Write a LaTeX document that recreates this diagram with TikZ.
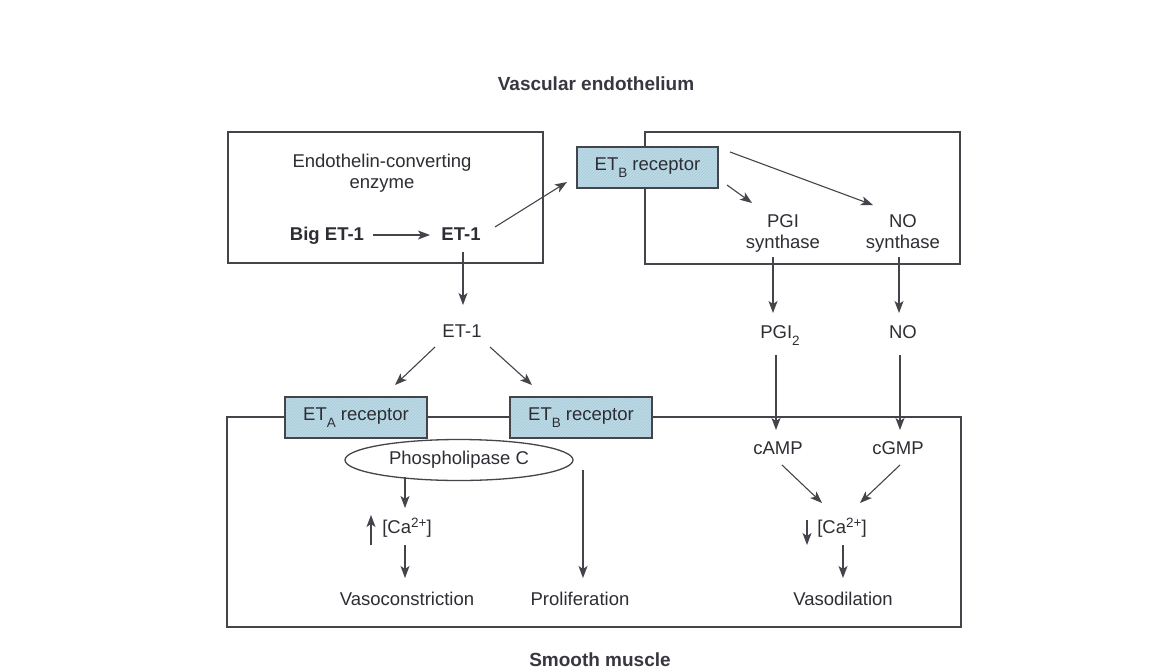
\documentclass[tikz,border=0pt]{standalone}
\usepackage{fontspec}
\setmainfont{Liberation Sans}
\usetikzlibrary{arrows.meta,shapes.geometric,patterns}
\definecolor{linec}{RGB}{68,68,74}
\definecolor{textc}{RGB}{45,45,52}
\definecolor{etfill}{RGB}{190,219,231}
\definecolor{ethatch}{RGB}{165,200,216}
\newcommand\lowr[1]{\raisebox{-7pt}{\fontsize{13.5}{14}\selectfont #1}}
\newcommand\uppr[1]{\raisebox{5.5pt}{\fontsize{13.5}{14}\selectfont #1}}
\begin{document}
\begin{tikzpicture}[x=1pt,y=-1pt,
  every node/.style={text=textc, inner sep=0pt, font=\fontsize{18.5}{21}\selectfont},
  lbl/.style={anchor=base},
  bold/.style={anchor=base, font=\fontsize{18.5}{21}\selectfont\bfseries},
  ttl/.style={anchor=base, font=\fontsize{19}{21}\selectfont\bfseries, text={rgb,255:red,55;green,55;blue,65}},
  two/.style={align=center},
  frame/.style={draw=linec, line width=1.3pt},
  etbox/.style={draw=linec, line width=1.3pt, preaction={fill=etfill}, pattern=north east lines, pattern color=ethatch, minimum width=141, minimum height=41},
  plcshape/.style={ellipse, draw=linec, line width=1.3pt, fill=white, minimum width=228, minimum height=41},
  arr/.style={draw=linec, line width=1.1pt, -{Stealth[length=12pt,width=9pt,inset=3pt]}}
]
\useasboundingbox (0,0) rectangle (1163,670);
\fill[white] (0,0) rectangle (1163,670);

% containers
\node[frame, minimum width=315, minimum height=131] (ecebox) at (385.5,197.5) {};
\node[frame, minimum width=315, minimum height=132] (endobox) at (802.5,198) {};
\node[frame, minimum width=734, minimum height=210] (smbox) at (594,522) {};

% titles
\node[ttl] (title1) at (596,90) {Vascular endothelium};
\node[ttl] (title2) at (600,666) {Smooth muscle};

% endothelium
\node[two] (ece) at (382,173) {Endothelin-converting\\enzyme};
\node[bold] (bigET) at (327,240) {Big ET-1};
\node[bold] (et1a) at (461,240) {ET-1};
\node[etbox] (etbtop) at (647.5,167.5) {ET\lowr{B} receptor};
\node[two] (pgis) at (783,233) {PGI\\synthase};
\node[two] (nos) at (903,233) {NO\\synthase};
\node[lbl] (pgi2) at (780,338) {PGI\lowr{2}};
\node[lbl] (no2) at (903,338) {NO};
\node[lbl] (et1b) at (462,337) {ET-1};

% smooth muscle
\node[etbox, minimum width=142] (eta) at (356,417.5) {ET\lowr{A} receptor};
\node[etbox, minimum width=142] (etbl) at (581,417.5) {ET\lowr{B} receptor};
\node[plcshape] (plc) at (459,460) {Phospholipase C};
\node[lbl] (ca1) at (407,533) {[Ca\uppr{2+}]};
\node[lbl] (vasoc) at (407,605) {Vasoconstriction};
\node[lbl] (prolif) at (580,605) {Proliferation};
\node[lbl] (camp) at (778,454) {cAMP};
\node[lbl] (cgmp) at (898,454) {cGMP};
\node[lbl] (ca2) at (842,533) {[Ca\uppr{2+}]};
\node[lbl] (vasod) at (843,605) {Vasodilation};

% connectors
\draw[arr] ([shift={(46,-5)}]bigET.base) -- ([shift={(-31,-5)}]et1a.base);
\draw[arr] ([shift={(34,-13)}]et1a.base) -- ([shift={(-80.5,14.5)}]etbtop.center);
\draw[arr] ([shift={(2,12)}]et1a.base) -- ([shift={(1,-32)}]et1b.base);
\draw[arr] ([shift={(82.5,-15.5)}]etbtop.center) -- ([shift={(-30,-28)}]nos.center);
\draw[arr] ([shift={(79.5,17.5)}]etbtop.center) -- ([shift={(-31,-30)}]pgis.center);
\draw[arr] ([shift={(-10,24)}]pgis.center) -- ([shift={(-7,-25)}]pgi2.base);
\draw[arr] ([shift={(-4,24)}]nos.center) -- ([shift={(-4,-25)}]no2.base);
\draw[arr] ([shift={(-27,10)}]et1b.base) -- ([shift={(39,-32.5)}]eta.center);
\draw[arr] ([shift={(28,10)}]et1b.base) -- ([shift={(-49,-32.5)}]etbl.center);
\draw[arr] ([shift={(-54,17)}]plc.center) -- ([shift={(-2,-25)}]ca1.base);
\draw[arr] ([shift={(-2,12)}]ca1.base) -- ([shift={(-2,-27)}]vasoc.base);
\draw[arr] ([shift={(-36,12)}]ca1.base) -- ([shift={(-36,-18)}]ca1.base);
\draw[arr] ([shift={(2,52.5)}]etbl.center) -- ([shift={(3,-27)}]prolif.base);
\draw[arr] ([shift={(-4,17)}]pgi2.base) -- ([shift={(-2,-24)}]camp.base);
\draw[arr] ([shift={(-3,17)}]no2.base) -- ([shift={(2,-24)}]cgmp.base);
\draw[arr] ([shift={(4,11)}]camp.base) -- ([shift={(-20,-30)}]ca2.base);
\draw[arr] ([shift={(2,11)}]cgmp.base) -- ([shift={(18,-30)}]ca2.base);
\draw[arr] ([shift={(-35,-13)}]ca2.base) -- ([shift={(-35,12)}]ca2.base);
\draw[arr] ([shift={(1,12)}]ca2.base) -- ([shift={(0,-27)}]vasod.base);
\end{tikzpicture}
\end{document}
